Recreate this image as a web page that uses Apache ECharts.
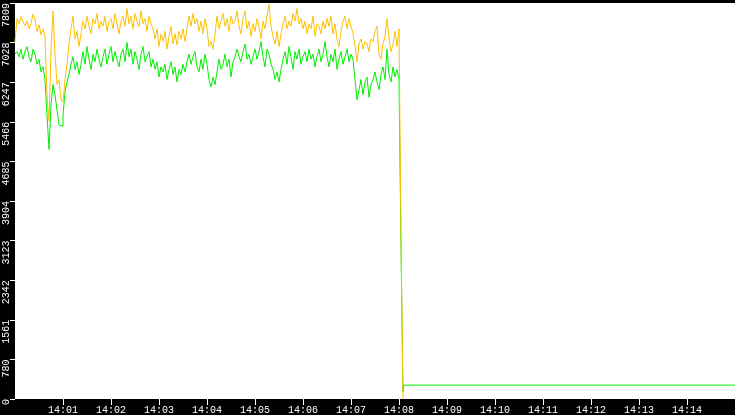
<!DOCTYPE html>
<html>
<head>
<meta charset="utf-8">
<script src="https://cdn.jsdelivr.net/npm/echarts@6/dist/echarts.min.js"></script>
<style>
html,body{margin:0;padding:0;background:#000;}
#chart{width:735px;height:415px;}
</style>
</head>
<body>
<div id="chart"></div>
<script>
// x positions: seconds after 14:00:00, one sample every 2.5 s
const sampleStart = 0;
const sampleStep = 2.5;

const orangeValues = [
7050,7500,7400,7540,7440,7360,7460,7300,7400,7590,7480,7250,7380,7180,7300,7150,
6000,5480,6900,7650,6800,6200,6300,5900,5850,6300,6600,7000,7300,7550,7100,7250,6950,7200,
7450,7300,7550,7350,7200,7500,7400,7600,7300,7450,
7350,7550,7250,7450,7500,7300,7600,7400,7200,7450,7550,7350,7700,
7400,7550,7300,7600,7450,7350,7650,7400,7500,7250,7550,7400,7300,
7100,7300,6950,7200,7050,7250,6900,7150,7350,7000,7200,6980,7250,7100,7300,7050,7300,
7550,7350,7600,7400,7500,7250,
7450,7200,7500,7300,6950,7050,6900,7200,
7550,7300,7450,7600,7350,7500,7250,7550,7400,7450,
7650,7350,7200,7500,7650,7300,7450,7150,7400,
7250,7500,7350,7100,7450,7300,7550,7780,7350,
7150,7000,7250,6950,7200,
7400,7550,7300,7450,7350,7600,7450,7700,7400,7500,7300,
7450,7200,7400,7300,7550,7150,7400,7350,7200,7450,7300,7500,
7350,7550,7200,7400,7100,6950,7250,7450,
7550,7300,7500,7350,7200,
6950,6650,
7000,7100,6900,7050,7000,6850,7100,7050,
7250,7350,6800,6700,7000,7150,7500,
7100,6850,7000,7250,6950,7300,3260,
0
];

const greenValues = [
6800,6850,6750,6900,6700,6850,6950,6750,6650,6900,6800,6600,6700,6450,6550,6300,
5600,4920,5800,6200,6000,5700,5400,5380,5600,6050,6250,6400,6600,6750,6500,6650,6400,6600,
6850,6600,6950,6700,6500,6800,6650,6900,6700,6550,
6750,6900,6600,6800,6950,6650,6850,6700,6550,6800,6900,6650,7030,
6750,6900,6600,6850,6700,6500,6800,6950,6650,6750,6850,6550,6700,
6500,6650,6350,6550,6450,6600,6300,6500,6650,6400,6550,6250,6500,6400,6600,6450,6650,
6800,6600,6750,6850,6550,6450,
6700,6500,6800,6600,6300,6150,6350,6200,
6450,6700,6500,6600,6800,6550,6700,6350,6650,6750,
6900,6750,6650,6850,7000,6700,6800,6600,6750,
6900,6700,6850,7050,6750,6550,6900,6800,6600,
6500,6300,6450,6250,6500,
6700,6850,6600,6950,6750,6500,6850,6700,6900,6600,6750,
6850,6650,6900,6700,6800,6550,6750,6900,6650,6800,7050,6750,
6550,6800,6650,6900,6500,6700,6850,6600,
6750,6900,6650,6800,6700,
6300,5900,
6100,6300,6000,6250,6350,5950,6200,6300,
6450,6250,6100,6400,6550,6300,6900,
6400,6250,6550,6350,6500,6300,2950,
140
];

// flat tail of the green series after the drop (seconds after 14:00:00)
const greenTailSeconds = [486, 900];
const greenTailValues = [273, 273];

const yTickValues = [0, 780.9, 1561.8, 2342.7, 3123.6, 3904.5, 4685.4, 5466.3, 6247.2, 7028.1, 7809];
const xTickLabels = ['14:01','14:02','14:03','14:04','14:05','14:06','14:07','14:08','14:09','14:10','14:11','14:12','14:13','14:14'];

const BASE = 14 * 3600;
function toSec(label) { const p = label.split(':'); return (+p[0]) * 3600 + (+p[1]) * 60; }
function fmt(sec) {
  const h = Math.floor(sec / 3600), m = Math.floor((sec % 3600) / 60);
  return String(h).padStart(2, '0') + ':' + String(m).padStart(2, '0');
}

const orangeData = orangeValues.map((v, i) => [BASE + sampleStart + i * sampleStep, v]);
const greenData = greenValues.map((v, i) => [BASE + sampleStart + i * sampleStep, v]);
greenTailSeconds.forEach((s, i) => greenData.push([BASE + s, greenTailValues[i]]));

const xTicks = xTickLabels.map(toSec);
const FONT = 'Liberation Mono';

const chart = echarts.init(document.getElementById('chart'), null, { renderer: 'canvas' });
chart.setOption({
  backgroundColor: '#000',
  animation: false,
  grid: {
    left: 15, right: 0, top: 0, bottom: 16,
    show: true, backgroundColor: '#fff', borderWidth: 0
  },
  xAxis: {
    type: 'value',
    min: BASE, max: BASE + 900,
    axisLine: { show: false },
    splitLine: { show: false },
    axisTick: { show: true, length: 6, lineStyle: { color: '#fff', width: 1 }, customValues: xTicks },
    axisLabel: {
      color: '#fff', fontSize: 10, fontFamily: FONT, margin: 6,
      customValues: xTicks,
      formatter: v => fmt(v)
    }
  },
  yAxis: {
    type: 'value',
    min: 0, max: 7809,
    axisLine: { show: false },
    splitLine: { show: false },
    axisTick: { show: true, length: 5, lineStyle: { color: '#fff', width: 1 }, customValues: yTickValues },
    axisLabel: {
      color: '#fff', fontSize: 10, fontFamily: FONT,
      rotate: 90, margin: 9, align: 'right', verticalAlign: 'middle',
      customValues: yTickValues,
      formatter: v => String(Math.floor(v + 1e-6))
    }
  },
  series: [
    {
      type: 'line', data: greenData, showSymbol: false, symbol: 'none', step: 'end',
      lineStyle: { color: '#00ee00', width: 1 }, sampling: null
    },
    {
      type: 'line', data: orangeData, showSymbol: false, symbol: 'none', step: 'end',
      lineStyle: { color: '#ffc000', width: 1 }, sampling: null
    }
  ]
});
</script>
</body>
</html>
